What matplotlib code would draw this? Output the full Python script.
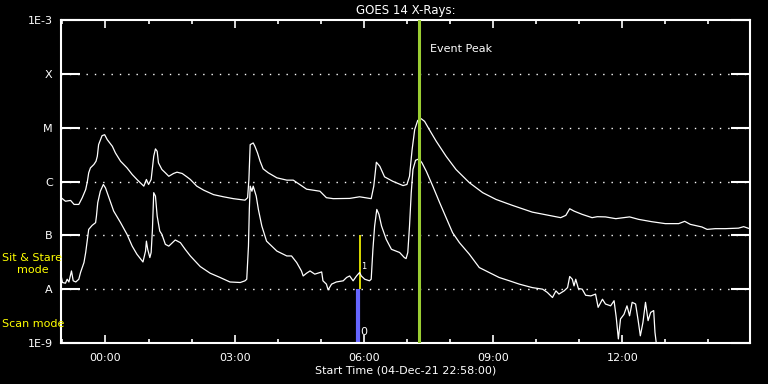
import numpy as np
import matplotlib
matplotlib.use('Agg')
import matplotlib.pyplot as plt

# hours after 00:00 on 05-Dec-21 (start is 22:58 on the 4th)
t_start = -62 / 60.0
t_end = t_start + 16.0

# long channel (1-8 A)
long_t = [-1.03, -0.93, -0.81, -0.73, -0.62, -0.54, -0.46, -0.42, -0.39, -0.35,
          -0.27, -0.22, -0.19, -0.16, -0.08, -0.02, 0.04, 0.16, 0.23, 0.35,
          0.50, 0.62, 0.73, 0.85, 0.89, 0.95, 1.00, 1.06, 1.12, 1.16,
          1.20, 1.23, 1.31, 1.39, 1.47, 1.58, 1.66, 1.78, 1.89, 1.97,
          2.12, 2.28, 2.51, 2.74, 2.97, 3.24, 3.30, 3.33, 3.36, 3.43,
          3.47, 3.53, 3.59, 3.66, 3.78, 3.98, 4.21, 4.36, 4.51, 4.67,
          4.98, 5.13, 5.29, 5.67, 5.90, 6.17, 6.23, 6.29, 6.37, 6.48,
          6.67, 6.91, 7.00, 7.06, 7.12, 7.18, 7.25, 7.33, 7.41, 7.52,
          7.68, 7.91, 8.14, 8.45, 8.76, 9.07, 9.45, 9.91, 10.38, 10.57,
          10.69, 10.78, 10.88, 11.07, 11.30, 11.42, 11.61, 11.85, 12.17, 12.38,
          12.69, 13.00, 13.31, 13.45, 13.58, 13.85, 13.97, 14.16, 14.39, 14.70,
          14.82, 14.93]
long_flux = [5.0e-7, 4.3e-7, 4.45e-7, 3.75e-7, 3.75e-7, 5.0e-7, 7.1e-7, 1.01e-6, 1.45e-6, 1.79e-6,
             2.07e-6, 2.38e-6, 2.94e-6, 4.84e-6, 7.1e-6, 7.4e-6, 6.0e-6, 4.5e-6, 3.4e-6, 2.38e-6,
             1.79e-6, 1.35e-6, 1.09e-6, 8.8e-7, 8.2e-7, 1.09e-6, 8.8e-7, 1.09e-6, 2.94e-6, 4.04e-6,
             3.64e-6, 2.22e-6, 1.67e-6, 1.45e-6, 1.25e-6, 1.41e-6, 1.49e-6, 1.41e-6, 1.22e-6, 1.09e-6,
             8.2e-7, 6.9e-7, 5.7e-7, 5.2e-7, 4.8e-7, 4.5e-7, 5.0e-7, 1.09e-6, 4.84e-6, 5.2e-6,
             4.5e-6, 3.4e-6, 2.38e-6, 1.72e-6, 1.45e-6, 1.17e-6, 1.06e-6, 1.06e-6, 8.8e-7, 7.2e-7,
             6.6e-7, 5.0e-7, 4.8e-7, 4.85e-7, 5.2e-7, 4.8e-7, 8.2e-7, 2.28e-6, 1.92e-6, 1.22e-6,
             1.01e-6, 8.4e-7, 8.8e-7, 1.25e-6, 3.9e-6, 9.2e-6, 1.36e-5, 1.47e-5, 1.31e-5, 9.2e-6,
             5.6e-6, 2.94e-6, 1.67e-6, 9.5e-7, 6.2e-7, 4.64e-7, 3.6e-7, 2.7e-7, 2.28e-7, 2.13e-7,
             2.35e-7, 3.12e-7, 2.82e-7, 2.45e-7, 2.13e-7, 2.22e-7, 2.2e-7, 2.04e-7, 2.2e-7, 1.98e-7,
             1.79e-7, 1.65e-7, 1.65e-7, 1.82e-7, 1.6e-7, 1.43e-7, 1.29e-7, 1.33e-7, 1.33e-7, 1.36e-7,
             1.45e-7, 1.35e-7]

# short channel (0.5-4 A)
short_t = [-1.03, -1.00, -0.93, -0.89, -0.85, -0.79, -0.75, -0.69, -0.62, -0.58,
           -0.50, -0.46, -0.42, -0.39, -0.31, -0.23, -0.21, -0.18, -0.12, -0.05,
           0.00, 0.08, 0.19, 0.35, 0.50, 0.62, 0.73, 0.87, 0.93, 0.95,
           0.98, 1.03, 1.06, 1.09, 1.12, 1.16, 1.20, 1.26, 1.31, 1.39,
           1.47, 1.62, 1.74, 1.85, 1.97, 2.04, 2.20, 2.43, 2.66, 2.89,
           3.13, 3.24, 3.28, 3.32, 3.34, 3.36, 3.40, 3.43, 3.50, 3.55,
           3.63, 3.74, 3.98, 4.21, 4.32, 4.44, 4.55, 4.59, 4.67, 4.75,
           4.86, 5.02, 5.05, 5.13, 5.17, 5.25, 5.36, 5.52, 5.60, 5.67,
           5.75, 5.83, 5.90, 5.94, 6.02, 6.13, 6.17, 6.21, 6.25, 6.30,
           6.35, 6.41, 6.52, 6.64, 6.83, 6.94, 6.98, 7.02, 7.06, 7.10,
           7.14, 7.20, 7.28, 7.35, 7.45, 7.60, 7.76, 7.91, 8.06, 8.22,
           8.45, 8.68, 8.91, 9.14, 9.38, 9.61, 9.91, 10.15, 10.26, 10.38,
           10.46, 10.53, 10.65, 10.73, 10.78, 10.84, 10.88, 10.92, 10.98, 11.07,
           11.15, 11.27, 11.38, 11.44, 11.54, 11.61, 11.73, 11.81, 11.86, 11.91,
           11.96, 12.04, 12.11, 12.17, 12.23, 12.31, 12.37, 12.42, 12.48, 12.54,
           12.60, 12.66, 12.73, 12.76, 12.79, 12.82]
short_flux = [1.76e-8, 1.33e-8, 1.29e-8, 1.53e-8, 1.36e-8, 2.18e-8, 1.43e-8, 1.36e-8, 1.53e-8, 2.04e-8,
              3.12e-8, 4.8e-8, 8.4e-8, 1.29e-7, 1.53e-7, 1.72e-7, 2.28e-7, 4.04e-7, 6.6e-7, 8.8e-7,
              7.6e-7, 5.0e-7, 2.82e-7, 1.72e-7, 1.04e-7, 6.3e-8, 4.45e-8, 3.2e-8, 5.1e-8, 7.8e-8,
              5.5e-8, 3.86e-8, 4.8e-8, 1.29e-7, 6.2e-7, 5.35e-7, 2.28e-7, 1.2e-7, 1.04e-7, 6.8e-8,
              6.3e-8, 8.2e-8, 7.3e-8, 5.5e-8, 4.14e-8, 3.6e-8, 2.63e-8, 1.98e-8, 1.65e-8, 1.36e-8,
              1.33e-8, 1.43e-8, 1.53e-8, 6.3e-8, 3.03e-7, 8.2e-7, 6.6e-7, 8.2e-7, 5.35e-7, 3.03e-7,
              1.49e-7, 7.8e-8, 5.1e-8, 4.14e-8, 4.14e-8, 3.12e-8, 2.18e-8, 1.76e-8, 1.98e-8, 2.18e-8,
              1.9e-8, 2.09e-8, 1.43e-8, 1.24e-8, 9.7e-9, 1.24e-8, 1.36e-8, 1.43e-8, 1.65e-8, 1.76e-8,
              1.43e-8, 1.76e-8, 2.04e-8, 1.76e-8, 1.53e-8, 1.43e-8, 1.53e-8, 5.5e-8, 1.49e-7, 3.03e-7,
              2.45e-7, 1.49e-7, 8.4e-8, 5.5e-8, 4.8e-8, 3.86e-8, 3.7e-8, 4.8e-8, 1.49e-7, 6.2e-7,
              1.67e-6, 2.48e-6, 2.63e-6, 2.22e-6, 1.55e-6, 8.2e-7, 4.04e-7, 2.13e-7, 1.12e-7, 7.3e-8,
              4.45e-8, 2.52e-8, 2.04e-8, 1.65e-8, 1.43e-8, 1.24e-8, 1.07e-8, 1.0e-8, 8.7e-9, 7.0e-9,
              9.3e-9, 8.1e-9, 9.3e-9, 1.07e-8, 1.72e-8, 1.53e-8, 1.15e-8, 1.53e-8, 1.03e-8, 1.0e-8,
              7.7e-9, 7.5e-9, 8.1e-9, 4.6e-9, 6.5e-9, 5.3e-9, 4.9e-9, 6.1e-9, 3.0e-9, 1.19e-9,
              2.8e-9, 3.4e-9, 4.9e-9, 3.2e-9, 5.7e-9, 5.3e-9, 2.6e-9, 1.36e-9, 2.4e-9, 5.7e-9,
              2.6e-9, 3.7e-9, 4.0e-9, 1.58e-9, 1.0e-9, 8.0e-10]

flare_levels = [1e-9, 1e-8, 1e-7, 1e-6, 1e-5, 1e-4, 1e-3]
flare_labels = ['1E-9', 'A', 'B', 'C', 'M', 'X', '1E-3']
time_ticks = [0, 3, 6, 9, 12]
time_labels = ['00:00', '03:00', '06:00', '09:00', '12:00']

event_peak = 7.29
scan_time = 5.86          # IRIS mode marker
scan_top = 1e-8           # scan mode bar (0)
stare_top = 1e-7          # sit & stare line (1)

fg = 'white'
plt.rcParams['font.family'] = ['DejaVu Sans']

fig = plt.figure(figsize=(7.68, 3.84), dpi=100, facecolor='black')
ax = fig.add_axes([61 / 768, 41 / 384, 689 / 768, 323 / 384], facecolor='black')

ax.set_yscale('log')
ax.set_ylim(1e-9, 1e-3)
ax.set_xlim(t_start, t_end)

# dotted grid at flare class levels
for lev in flare_levels[1:-1]:
    ax.axhline(lev, color=fg, lw=1.0, ls=(0, (1, 5)), zorder=1)

ax.plot(long_t, long_flux, color=fg, lw=0.9, zorder=3)
ax.plot(short_t, short_flux, color=fg, lw=0.9, zorder=3)

ax.axvline(event_peak, color='#9acd32', lw=2.2, zorder=4)
ax.text(event_peak + 0.25, 2.9e-4, 'Event Peak', color=fg, fontsize=8, va='center')

ax.vlines(scan_time, 1e-9, scan_top, color='#6666ff', lw=3, zorder=2)
ax.vlines(scan_time + 0.04, scan_top, stare_top, color='yellow', lw=1.2, zorder=2)
ax.text(scan_time + 0.06, 1.6e-9, '0', color=fg, fontsize=8, va='center')
ax.text(scan_time + 0.07, 2.6e-8, '1', color=fg, fontsize=6, va='center')

for s in ax.spines.values():
    s.set_color(fg)
    s.set_linewidth(1.5)

ax.set_yticks(flare_levels)
ax.set_yticklabels(flare_labels)
ax.yaxis.set_minor_locator(matplotlib.ticker.NullLocator())
ax.tick_params(axis='y', which='major', direction='in', length=14, width=1.5,
               colors=fg, labelsize=8, left=True, right=True, pad=6)

ax.set_xticks(time_ticks)
ax.set_xticklabels(time_labels)
ax.set_xticks(np.arange(-1.0, 15, 1.0), minor=True)
ax.tick_params(axis='x', which='major', direction='in', length=6, width=1.2,
               colors=fg, labelsize=8, top=True, bottom=True, pad=7)
ax.tick_params(axis='x', which='minor', direction='in', length=3, width=1.2,
               colors=fg, top=True, bottom=True)

ax.set_xlabel('Start Time (04-Dec-21 22:58:00)', color=fg, fontsize=8, labelpad=2)
ax.set_title('GOES 14 X-Rays:', color=fg, fontsize=8.5, pad=4)

fig.text(2 / 768, 1 - 258 / 384, 'Sit & Stare', color='yellow', fontsize=8, va='center')
fig.text(33 / 768, 1 - 270 / 384, 'mode', color='yellow', fontsize=8, va='center', ha='center')
fig.text(2 / 768, 1 - 324 / 384, 'Scan mode', color='yellow', fontsize=8, va='center')

fig.savefig('out.png', dpi=100, facecolor='black')
